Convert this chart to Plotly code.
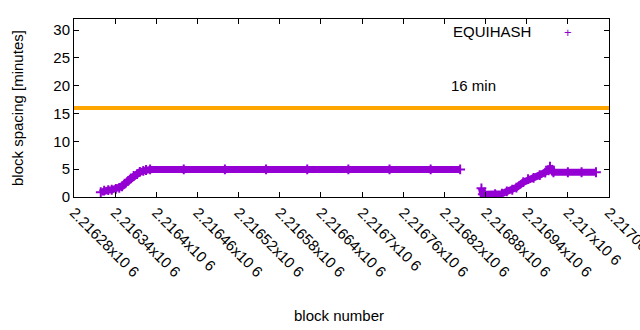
import plotly.graph_objects as go

# ---- data ----
seg1_blocks = [2216319, 2216324, 2216330, 2216335, 2216341, 2216346, 2216350, 2216354,
               2216359, 2216363, 2216367, 2216372, 2216376, 2216381, 2216385, 2216391,
               2216440, 2216500, 2216560, 2216620, 2216680, 2216740, 2216800, 2216843]
seg1_values = [0.85, 1.15, 1.25, 1.3, 1.45, 1.65, 1.9, 2.4,
               2.9, 3.35, 3.8, 4.1, 4.5, 4.7, 4.85, 4.95,
               4.95, 4.95, 4.95, 4.95, 4.95, 4.95, 4.95, 4.95]

seg2_blocks = [2216874, 2216876, 2216879, 2216894, 2216904, 2216911, 2216919, 2216925,
               2216935, 2216942, 2216950, 2216959, 2216967, 2216972, 2216974, 2216979,
               2217000, 2217020, 2217041]
seg2_values = [1.56, 0.5, 0.5, 0.5, 0.6, 1.0, 1.3, 1.7,
               2.66, 3.2, 3.45, 3.95, 4.37, 4.8, 5.45, 4.45,
               4.45, 4.45, 4.45]

target_minutes = 16
x_range = [2216280, 2217060]
tick_vals = [2216280 + 60 * k for k in range(14)]
tick_text = ["2.21628x10 6", "2.21634x10 6", "2.2164x10 6", "2.21646x10 6",
             "2.21652x10 6", "2.21658x10 6", "2.21664x10 6", "2.2167x10 6",
             "2.21676x10 6", "2.21682x10 6", "2.21688x10 6", "2.21694x10 6",
             "2.217x10 6", "2.21706x10 6"]
y_ticks = [0, 5, 10, 15, 20, 25, 30]

PURPLE = "#9400D3"
ORANGE = "#FFA500"
FONT = "Liberation Sans, Arial, sans-serif"

fig = go.Figure()

# target line
fig.add_trace(go.Scatter(x=x_range, y=[target_minutes, target_minutes], mode="lines",
                         line=dict(color=ORANGE, width=4), showlegend=False,
                         hoverinfo="skip"))

# block spacing series
xs = seg1_blocks + [None] + seg2_blocks
ys = seg1_values + [None] + seg2_values
fig.add_trace(go.Scatter(x=xs, y=ys, mode="lines+markers",
                         line=dict(color=PURPLE, width=7),
                         marker=dict(symbol="cross-thin", size=7,
                                     line=dict(color=PURPLE, width=2)),
                         showlegend=False, connectgaps=False))

fig.update_layout(
    width=640, height=330,
    margin=dict(l=74, r=31, t=19, b=133, autoexpand=False),
    paper_bgcolor="white", plot_bgcolor="white",
    font=dict(family=FONT, size=15, color="black"),
    showlegend=False,
    xaxis=dict(range=x_range, tickvals=tick_vals, ticktext=tick_text,
               tickangle=45, ticks="inside", ticklen=5, tickcolor="black",
               showline=True, linecolor="black", linewidth=1, mirror="ticks",
               showgrid=False, zeroline=False, tickfont=dict(size=15),
               ticklabeloverflow="allow", automargin=False),
    yaxis=dict(range=[0, 32], tickvals=y_ticks, ticks="inside", ticklen=5,
               tickcolor="black", showline=True, linecolor="black", linewidth=1,
               mirror="ticks", showgrid=False, zeroline=False,
               tickfont=dict(size=15), automargin=False),
    annotations=[
        dict(text="EQUIHASH", x=0.858, y=0.929, xref="paper", yref="paper",
             xanchor="right", yanchor="middle", showarrow=False,
             font=dict(size=15)),
        dict(text="+", x=0.9228, y=0.925, xref="paper", yref="paper",
             xanchor="center", yanchor="middle", showarrow=False,
             font=dict(size=13, color=PURPLE)),
        dict(text="16 min", x=0.701, y=0.6236, xref="paper", yref="paper",
             xanchor="left", yanchor="middle", showarrow=False,
             font=dict(size=15)),
        dict(text="block spacing [minutes]", x=-0.1065, y=0.5, xref="paper",
             yref="paper", xanchor="center", yanchor="middle", textangle=-90,
             showarrow=False, font=dict(size=15)),
        dict(text="block number", x=0.4955, y=-0.663, xref="paper", yref="paper",
             xanchor="center", yanchor="middle", showarrow=False,
             font=dict(size=15)),
    ],
)

fig.write_html("out.html")
